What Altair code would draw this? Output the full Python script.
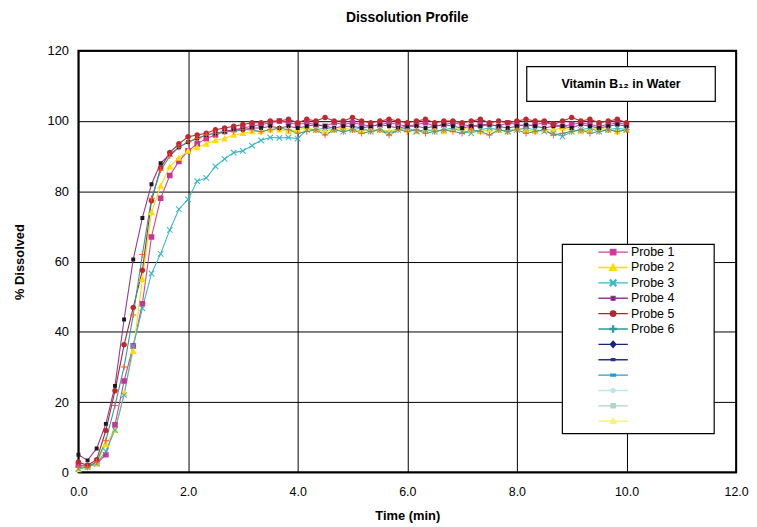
import altair as alt
import pandas as pd

times = [0.0, 0.167, 0.333, 0.5, 0.667, 0.833, 1.0, 1.167, 1.333, 1.5,
         1.667, 1.833, 2.0, 2.167, 2.333, 2.5, 2.667, 2.833, 3.0, 3.167,
         3.333, 3.5, 3.667, 3.833, 4.0, 4.167, 4.333, 4.5, 4.667, 4.833,
         5.0, 5.167, 5.333, 5.5, 5.667, 5.833, 6.0, 6.167, 6.333, 6.5,
         6.667, 6.833, 7.0, 7.167, 7.333, 7.5, 7.667, 7.833, 8.0, 8.167,
         8.333, 8.5, 8.667, 8.833, 9.0, 9.167, 9.333, 9.5, 9.667, 9.833,
         10.0]

probe1 = [2.0, 1.8, 2.5, 5.0, 13.5, 26.0, 36.0, 48.0, 67.0, 78.0,
          84.5, 88.5, 91.5, 93.5, 95.0, 96.0, 97.0, 97.5, 98.0, 98.5,
          99.0, 99.5, 100.0, 99.5, 99.0, 99.5, 99.0, 98.5, 99.5, 99.0,
          99.5, 99.0, 98.5, 99.0, 99.5, 99.0, 98.5, 99.0, 99.5, 98.5,
          99.0, 99.5, 99.0, 98.5, 99.0, 99.0, 98.5, 99.5, 99.0, 98.5,
          99.0, 99.5, 99.0, 98.5, 99.0, 99.5, 99.0, 98.5, 99.0, 99.5,
          99.0]
probe2 = [0.8, 1.5, 2.5, 8.0, 12.0, 22.5, 34.5, 55.0, 74.0, 81.5,
          87.0, 89.5, 91.5, 92.5, 93.5, 94.5, 95.0, 96.0, 96.5, 97.0,
          97.0, 97.5, 97.5, 97.0, 97.5, 98.0, 97.5, 97.0, 97.5, 98.0,
          97.5, 97.0, 97.5, 97.5, 97.0, 98.0, 97.5, 97.0, 97.5, 97.5,
          97.0, 97.5, 98.0, 97.5, 97.0, 97.5, 97.5, 97.0, 98.0, 97.5,
          97.0, 97.5, 97.5, 98.0, 97.5, 97.0, 97.5, 98.0, 97.5, 97.0,
          97.5]
probe3 = [1.0, 1.5, 2.5, 6.0, 12.0, 22.0, 36.0, 46.7, 56.6, 62.2,
          69.0, 74.9, 77.7, 82.9, 83.8, 87.1, 89.2, 91.0, 91.5, 93.0,
          94.5, 95.3, 95.2, 95.3, 95.0, 97.5, 97.5, 98.0, 97.5, 97.0,
          97.5, 98.0, 97.0, 97.5, 96.5, 97.5, 98.0, 97.0, 97.5, 97.0,
          97.5, 98.0, 97.0, 96.5, 97.5, 98.0, 97.5, 97.0, 97.5, 98.0,
          97.5, 97.0, 96.5, 95.6, 97.0, 97.5, 98.0, 97.0, 97.5, 98.0,
          97.5]
probe4 = [5.0, 3.4, 6.8, 13.8, 24.6, 43.5, 60.6, 72.4, 82.0, 88.0,
          90.5, 92.5, 94.0, 95.0, 96.0, 96.5, 97.0, 97.5, 97.5, 98.0,
          98.0, 98.5, 98.0, 98.5, 98.0, 98.5, 99.0, 98.5, 98.0, 98.5,
          98.5, 98.0, 98.5, 99.0, 98.5, 98.0, 98.5, 98.5, 98.0, 98.5,
          99.0, 98.5, 98.0, 98.5, 98.5, 99.0, 98.5, 98.0, 98.5, 99.0,
          98.5, 98.0, 98.5, 98.5, 98.0, 99.0, 98.5, 98.0, 98.5, 99.0,
          98.5]
probe5 = [2.9, 2.0, 3.6, 11.9, 23.2, 36.3, 46.9, 57.5, 77.3, 86.7,
          91.0, 93.5, 95.5, 96.0, 96.5, 97.5, 98.0, 98.5, 99.0, 99.5,
          99.5, 100.0, 100.0, 100.5, 99.5, 100.5, 100.0, 101.0, 100.0, 100.0,
          101.0, 100.0, 99.5, 100.0, 100.5, 100.0, 99.5, 100.0, 100.5, 99.5,
          100.0, 100.0, 99.5, 100.0, 100.5, 99.5, 100.0, 99.5, 100.0, 100.5,
          100.0, 100.0, 99.0, 100.0, 101.0, 100.0, 100.5, 99.5, 100.0, 100.5,
          99.5]
probe6 = [1.5, 1.5, 3.0, 9.0, 19.0, 30.0, 44.8, 62.0, 78.0, 86.0,
          90.0, 92.5, 94.0, 95.0, 96.0, 96.5, 97.0, 97.0, 97.5, 97.5,
          97.0, 97.5, 98.0, 97.5, 96.5, 97.0, 97.5, 96.0, 97.5, 97.0,
          97.5, 96.5, 97.0, 97.5, 96.0, 97.5, 97.0, 97.5, 96.5, 97.0,
          97.5, 97.0, 96.5, 97.5, 97.0, 96.0, 97.5, 97.0, 97.5, 96.5,
          97.0, 97.5, 96.0, 96.5, 97.0, 97.5, 96.5, 97.0, 97.5, 97.0,
          97.5]

series_names = ["Probe 1", "Probe 2", "Probe 3", "Probe 4", "Probe 5", "Probe 6",
                "s7", "s8", "s9", "s10", "s11", "s12"]
series_values = [probe1, probe2, probe3, probe4, probe5, probe6]

line_colors = ["#d1449c", "#f2e000", "#3cb8c8", "#8e3a96", "#a32b2e", "#2e9c9c",
               "#1c237a", "#27308f", "#1fa0d8", "#bfe7ea", "#b0d6c4", "#fff27a"]
marker_colors = ["#cc3399", "#ffdd00", "#33b5c8", "#1a1a1a", "#c0282e", "#ff5a1f",
                 "#1c237a", "#27308f", "#1fa0d8", "#bfe7ea", "#b0d6c4", "#fff27a"]

LINE = "M-2.1,0H2.1"
marker_paths = [
    LINE + "M-0.4,-0.4H0.4V0.4H-0.4Z",
    LINE + "M0,-0.5L0.5,0.4H-0.5Z",
    LINE + "M-0.45,-0.35L-0.35,-0.45L0.45,0.35L0.35,0.45ZM0.35,-0.45L0.45,-0.35L-0.35,0.45L-0.45,0.35Z",
    LINE + "M-0.28,-0.28H0.28V0.28H-0.28Z",
    LINE + "M-0.4,0A0.4,0.4 0 1,0 0.4,0A0.4,0.4 0 1,0 -0.4,0Z",
    LINE + "M-0.45,-0.07H0.45V0.07H-0.45ZM-0.07,-0.45H0.07V0.45H-0.07Z",
    LINE + "M0,-0.45L0.4,0L0,0.45L-0.4,0Z",
    LINE + "M-0.25,-0.14H0.25V0.14H-0.25Z",
    LINE + "M-0.35,-0.14H0.35V0.14H-0.35Z",
    LINE + "M-0.3,0A0.3,0.3 0 1,0 0.3,0A0.3,0.3 0 1,0 -0.3,0Z",
    LINE + "M-0.3,-0.3H0.3V0.3H-0.3Z",
    LINE + "M0,-0.4L0.4,0.3H-0.4Z",
]

# annotation boxes (data units)
note_text = ["Vitamin B\u2081\u2082 in Water"]
note_box = {"x": [8.18], "x2": [11.62], "y": [105.6], "y2": [115.5], "tx": [9.9], "ty": [110.5]}
legend_box = {"x": [8.83], "x2": [11.6], "y": [11.0], "y2": [64.9]}

rows = []
for name, vals in zip(series_names, series_values):
    for t, v in zip(times, vals):
        rows.append({"time": t, "pct": v, "probe": name})
df = pd.DataFrame(rows)

FONT = "Liberation Sans, Arial, sans-serif"

legend = alt.Legend(
    title=None, orient="none", legendX=531, legendY=195,
    padding=0, symbolOffset=0, symbolSize=200, symbolStrokeWidth=1.3,
    labelOffset=10, labelFont=FONT, labelFontSize=12.5, labelColor="black",
    rowPadding=0.5,
    labelExpr="indexof(datum.label,'Probe')==0 ? datum.label : ''",
)

x_enc = alt.X("time:Q", scale=alt.Scale(domain=[0, 12], nice=False),
              axis=alt.Axis(values=[0, 2, 4, 6, 8, 10, 12], format=".1f",
                            title="Time (min)", labelFont=FONT, labelFontSize=12.5,
                            labelPadding=13, labelFlush=False, titleFont=FONT, titleFontSize=13,
                            titleFontWeight="bold", titlePadding=12))
y_enc = alt.Y("pct:Q", scale=alt.Scale(domain=[0, 120], nice=False),
              axis=alt.Axis(values=[0, 20, 40, 60, 80, 100, 120],
                            title="% Dissolved", labelFont=FONT, labelFontSize=13,
                            labelPadding=10, labelFlush=False, titleFont=FONT, titleFontSize=13,
                            titleFontWeight="bold", titlePadding=21))

stroke_scale = alt.Scale(domain=series_names, range=line_colors)
fill_scale = alt.Scale(domain=series_names, range=marker_colors)
shape_scale = alt.Scale(domain=series_names, range=marker_paths)

lines = alt.Chart(df).mark_line(strokeWidth=1.1).encode(
    x=x_enc, y=y_enc,
    stroke=alt.Stroke("probe:N", scale=stroke_scale, legend=legend),
    detail="probe:N",
)
points = alt.Chart(df).mark_point(filled=True, size=200, strokeWidth=0, opacity=1).encode(
    x=x_enc, y=y_enc,
    fill=alt.Fill("probe:N", scale=fill_scale, legend=legend),
    shape=alt.Shape("probe:N", scale=shape_scale, legend=legend),
)

note_df = pd.DataFrame({"label": note_text, **note_box})
box = alt.Chart(note_df).mark_rect(fill="white", stroke="black", strokeWidth=1.2).encode(
    x="x:Q", x2="x2:Q", y="y:Q", y2="y2:Q")
note = alt.Chart(note_df).mark_text(font=FONT, fontSize=12.5, fontWeight="bold", color="black").encode(
    x="tx:Q", y="ty:Q", text="label:N")

leg_df = pd.DataFrame(legend_box)
leg_rect = alt.Chart(leg_df).mark_rect(fill="white", stroke="black", strokeWidth=1.2).encode(
    x="x:Q", x2="x2:Q", y="y:Q", y2="y2:Q")

chart = alt.layer(leg_rect, lines, points, box, note).properties(
    width=663, height=425, background="white",
    padding={"left": 5, "top": 1, "right": 0, "bottom": 0},
    title=alt.TitleParams("Dissolution Profile", font=FONT, fontSize=14, fontWeight="bold",
                          anchor="middle", frame="group", offset=20, color="black"),
).configure_view(stroke="black", strokeWidth=2).configure_axis(
    domain=False, ticks=False, grid=True, gridColor="black", gridOpacity=1, gridWidth=1,
    labelColor="black", titleColor="black",
)

chart.save("out.html", embed_options={"renderer": "svg", "actions": False})
